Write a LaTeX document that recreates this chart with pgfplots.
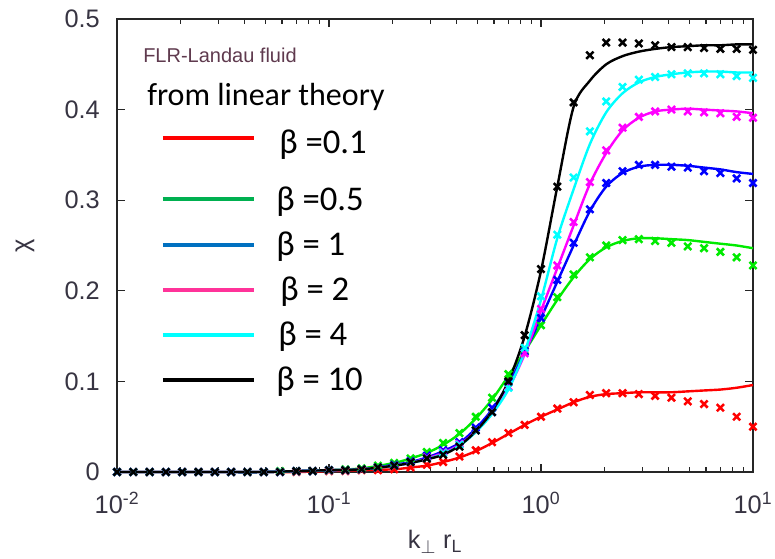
\documentclass[border=0pt]{standalone}
\usepackage{pgfplots}
\usepackage{pgfplotstable}
\pgfplotsset{compat=1.18}
\usepackage{fontspec}
\setmainfont{Liberation Sans}
\newfontfamily\calibri{Carlito}
\definecolor{ticktext}{RGB}{55,52,66}
\definecolor{flrcol}{RGB}{95,58,78}
\definecolor{pgreen}{RGB}{0,235,0}
\definecolor{pblue}{RGB}{0,0,255}
\definecolor{pmag}{RGB}{255,0,255}
\definecolor{pcyan}{RGB}{0,255,255}
\definecolor{lgreen}{RGB}{0,176,80}
\definecolor{lblue}{RGB}{0,112,192}
\definecolor{lpink}{RGB}{255,51,153}

\pgfplotstableread{
k        r     g     b     m     c     bk
0.010000 0     0     0     0     0     0
0.011938 0     0     0     0     0     0
0.014251 0     0     0     0     0     0
0.017013 0     0     0     0     0     0
0.020309 0     0     0     0     0     0
0.024245 0     0     0     0     0     0
0.028943 0     0     0     0     0     0
0.034551 0     0     0     0     0     0
0.041246 0     0     0     0     0     0
0.049239 0     0     0     0     0     0
0.058780 0     0.001 0     0     0     0
0.070170 0     0.001 0.001 0.001 0.001 0.001
0.083768 0.001 0.001 0.001 0.001 0.001 0.001
0.100000 0.001 0.002 0.002 0.002 0.002 0.002
0.119380 0.001 0.003 0.002 0.002 0.002 0.002
0.142510 0.002 0.004 0.003 0.003 0.003 0.003
0.170130 0.002 0.007 0.005 0.005 0.005 0.005
0.203090 0.003 0.010 0.008 0.007 0.007 0.007
0.242450 0.005 0.015 0.012 0.011 0.011 0.011
0.289430 0.008 0.022 0.018 0.016 0.015 0.015
0.345510 0.011 0.032 0.024 0.022 0.021 0.019
0.412460 0.017 0.043 0.033 0.031 0.030 0.028
0.492390 0.024 0.061 0.049 0.046 0.046 0.046
0.587800 0.033 0.082 0.071 0.066 0.066 0.066
0.701700 0.043 0.108 0.099 0.094 0.093 0.100
0.837680 0.052 0.134 0.133 0.131 0.137 0.151
1.000000 0.061 0.162 0.170 0.180 0.194 0.224
1.193800 0.070 0.193 0.212 0.228 0.262 0.315
1.425100 0.077 0.218 0.253 0.276 0.325 0.408
1.701300 0.085 0.237 0.290 0.320 0.376 0.460
2.030900 0.087 0.250 0.319 0.355 0.409 0.474
2.424500 0.087 0.256 0.332 0.380 0.425 0.474
2.894300 0.086 0.257 0.339 0.392 0.433 0.473
3.455100 0.084 0.255 0.339 0.398 0.436 0.471
4.124600 0.082 0.253 0.337 0.400 0.439 0.469
4.923900 0.078 0.249 0.336 0.398 0.440 0.469
5.878000 0.075 0.247 0.332 0.397 0.440 0.468
7.017000 0.071 0.243 0.330 0.396 0.439 0.467
8.376800 0.061 0.237 0.324 0.392 0.437 0.467
10.00000 0.050 0.228 0.319 0.391 0.435 0.466
}\simdata

\pgfplotstableread{
k        r     g     b     m     c     bk
0.010000 0     0     0     0     0     0
0.017013 0     0     0     0     0     0
0.028943 0     0     0     0     0     0
0.049239 0     0     0     0     0     0
0.070170 0     0.001 0.001 0.001 0.001 0.001
0.100000 0.001 0.002 0.002 0.002 0.002 0.002
0.142510 0.002 0.004 0.003 0.003 0.003 0.003
0.203090 0.003 0.010 0.008 0.007 0.007 0.007
0.242450 0.005 0.015 0.011 0.010 0.010 0.010
0.289430 0.007 0.021 0.016 0.015 0.014 0.014
0.345510 0.011 0.030 0.023 0.021 0.020 0.019
0.412460 0.016 0.042 0.032 0.030 0.029 0.029
0.492390 0.023 0.059 0.048 0.045 0.044 0.045
0.587800 0.032 0.080 0.069 0.065 0.064 0.067
0.701700 0.042 0.106 0.097 0.092 0.091 0.100
0.837680 0.052 0.133 0.132 0.130 0.133 0.150
1.000000 0.061 0.162 0.170 0.178 0.190 0.222
1.193800 0.069 0.190 0.210 0.225 0.258 0.315
1.425100 0.077 0.215 0.250 0.272 0.312 0.403
1.701300 0.083 0.235 0.288 0.318 0.362 0.432
2.030900 0.086 0.248 0.315 0.352 0.397 0.450
2.424500 0.087 0.255 0.330 0.377 0.418 0.459
2.894300 0.088 0.258 0.337 0.391 0.430 0.464
3.455100 0.088 0.258 0.339 0.398 0.436 0.467
4.124600 0.088 0.257 0.339 0.400 0.439 0.469
4.923900 0.089 0.256 0.338 0.401 0.441 0.470
5.878000 0.090 0.254 0.336 0.400 0.442 0.471
7.017000 0.091 0.252 0.334 0.399 0.442 0.471
8.376800 0.093 0.250 0.331 0.398 0.441 0.472
10.00000 0.096 0.247 0.329 0.396 0.441 0.472
}\theory

\begin{document}
\begin{tikzpicture}
\begin{axis}[
  at={(0,0)}, anchor=south west, scale only axis,
  width=477pt, height=339.75pt,
  xmode=log, xmin=0.01, xmax=10, ymin=0, ymax=0.5,
  xtick={0.01,0.1,1,10},
  xticklabels={10\textsuperscript{-2},10\textsuperscript{-1},10\textsuperscript{0},10\textsuperscript{1}},
  minor xtick={0.02,0.03,0.04,0.05,0.06,0.07,0.08,0.09,0.2,0.3,0.4,0.5,0.6,0.7,0.8,0.9,2,3,4,5,6,7,8,9},
  ytick={0,0.1,0.2,0.3,0.4,0.5},
  yticklabels={0,0.1,0.2,0.3,0.4,0.5},
  tick align=inside,
  major tick length=6pt, minor tick length=3.75pt,
  axis line style={line width=1.1pt, black!85},
  every tick/.style={black!85, line width=0.9pt},
  /pgf/number format/assume math mode=true,
  ticklabel style={font=\fontsize{19}{21}\selectfont, text=ticktext},
  xticklabel style={anchor=base, yshift=-30.75pt, inner sep=0pt},
  yticklabel style={anchor=east, inner sep=0pt, xshift=-12.75pt},
  ylabel={χ},
  ylabel style={at={(axis description cs:-0.1447,0.5)}, anchor=center, font=\fontsize{19}{21}\selectfont, text=ticktext},
  xlabel={k\textsubscript{$\perp$} r\textsubscript{L}},
  xlabel style={at={(axis description cs:0.5,-0.1678)}, anchor=base, font=\fontsize{19}{21}\selectfont, text=ticktext},
  clip=false,
  sim/.style={only marks, mark=x, mark size=3.8pt, mark options={line width=1.9pt}},
  thy/.style={line width=1.8pt, smooth},
]
\addplot[red, thy] table[x=k,y=r]{\theory};
\addplot[red, sim] table[x=k,y=r]{\simdata};
\addplot[pgreen, thy] table[x=k,y=g]{\theory};
\addplot[pgreen, sim] table[x=k,y=g]{\simdata};
\addplot[pblue, thy] table[x=k,y=b]{\theory};
\addplot[pblue, sim] table[x=k,y=b]{\simdata};
\addplot[pmag, thy] table[x=k,y=m]{\theory};
\addplot[pmag, sim] table[x=k,y=m]{\simdata};
\addplot[pcyan, thy] table[x=k,y=c]{\theory};
\addplot[pcyan, sim] table[x=k,y=c]{\simdata};
\addplot[black, thy] table[x=k,y=bk]{\theory};
\addplot[black, sim] table[x=k,y=bk]{\simdata};
\end{axis}
% legend overlay
\node[anchor=base west, inner sep=0pt, text=flrcol, font=\fontsize{15}{17}\selectfont] at (19.5pt,306.75pt) {FLR-Landau fluid};
\node[anchor=base west, inner sep=0pt, font=\calibri\fontsize{24}{26}\selectfont] at (22.5pt,275.25pt) {from linear theory};
\draw[red, line width=2.6pt] (34.5pt,250.5pt) -- (102.75pt,250.5pt);
\draw[lgreen, line width=2.6pt] (34.5pt,204.75pt) -- (102.75pt,204.75pt);
\draw[lblue, line width=2.6pt] (34.5pt,170.25pt) -- (102.75pt,170.25pt);
\draw[lpink, line width=2.6pt] (34.5pt,136.5pt) -- (102.75pt,136.5pt);
\draw[pcyan, line width=2.6pt] (34.5pt,102.75pt) -- (102.75pt,102.75pt);
\draw[black, line width=2.6pt] (34.5pt,69pt) -- (102.75pt,69pt);
\begin{scope}[every node/.style={anchor=base west, inner sep=0pt, font=\calibri\fontsize{26}{28}\selectfont}]
\node at (121.5pt,239.25pt) {β =0.1};
\node at (119.25pt,196.5pt) {β =0.5};
\node at (119.25pt,162.75pt) {β = 1};
\node at (122.25pt,129pt) {β = 2};
\node at (120.75pt,95.25pt) {β = 4};
\node at (119.25pt,61.5pt) {β = 10};
\end{scope}
\pgfresetboundingbox
\path[use as bounding box] (-87.75pt,-64.5pt) rectangle (493.5pt,354pt);
\end{tikzpicture}
\end{document}
